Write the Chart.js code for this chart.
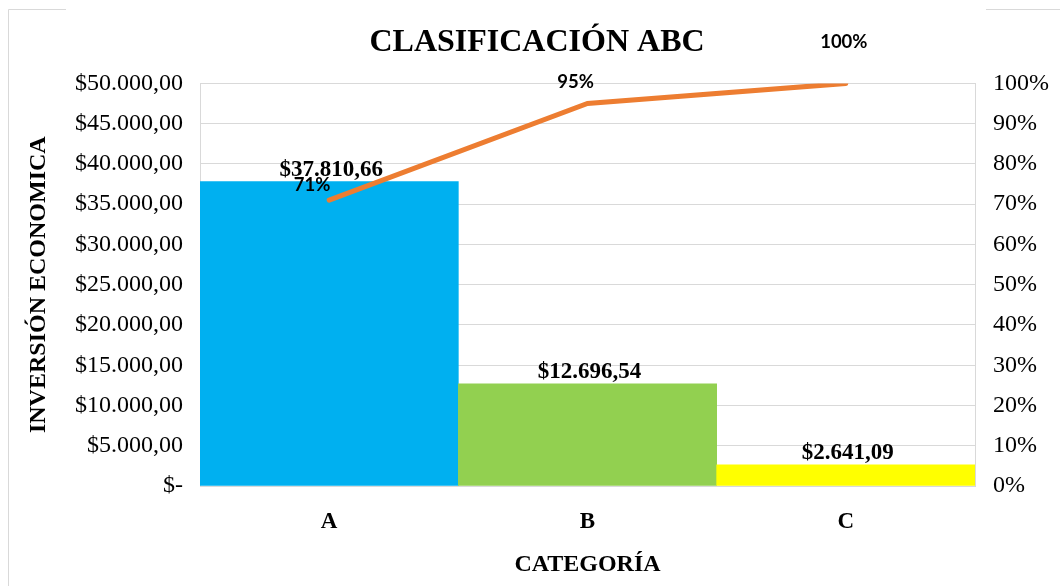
<!DOCTYPE html>
<html><head><meta charset="utf-8">
<script src="https://cdn.jsdelivr.net/npm/chart.js@4.4.1/dist/chart.umd.min.js"></script>
<style>html,body{margin:0;padding:0;background:#fff}</style>
</head><body>
<canvas id="c" width="1060" height="586"></canvas>
<script>
const categories = ['A', 'B', 'C'];
const inversion = [37810.66, 12696.54, 2641.09];
const acumulado = [71, 95, 100];
const barColors = ['#00B0F0', '#92D050', '#FFFF00'];
const chartTitle = 'CLASIFICACIÓN ABC';
const yTitle = 'INVERSIÓN ECONOMICA';
const xTitle = 'CATEGORÍA';

const SERIF = '"Liberation Serif", "Times New Roman", serif';

function money(v) {
  if (v === 0) return '$-';
  const parts = v.toFixed(2).split('.');
  const ent = parts[0].replace(/\B(?=(\d{3})+(?!\d))/g, '.');
  return '$' + ent + ',' + parts[1];
}

const framePlugin = {
  id: 'frame',
  beforeDraw(chart) {
    const ctx = chart.ctx;
    ctx.save();
    ctx.fillStyle = '#fff';
    ctx.fillRect(0, 0, chart.width, chart.height);
    ctx.strokeStyle = '#D9D9D9';
    ctx.lineWidth = 1;
    ctx.beginPath();
    ctx.moveTo(8.5, 586); ctx.lineTo(8.5, 9.5); ctx.lineTo(66, 9.5);
    ctx.moveTo(986, 9.5); ctx.lineTo(1060, 9.5);
    ctx.stroke();
    ctx.restore();
  }
};

const labelPlugin = {
  id: 'labels',
  afterDatasetsDraw(chart) {
    const ctx = chart.ctx;
    ctx.save();
    const barMeta = chart.getDatasetMeta(0);
    ctx.fillStyle = '#000';
    ctx.textAlign = 'center';
    ctx.textBaseline = 'alphabetic';
    ctx.font = 'bold 23px ' + SERIF;
    barMeta.data.forEach((el, i) => {
      ctx.fillText(money(inversion[i]), el.x + 2, el.y - 6);
    });
    const lineMeta = chart.getDatasetMeta(1);
    const offs = [[-17, -9], [-12, -16], [-2, -35]];
    ctx.font = 'bold 18.5px Lato, "Open Sans", sans-serif';
    lineMeta.data.forEach((el, i) => {
      ctx.fillText(acumulado[i] + '%', el.x + offs[i][0], el.y + offs[i][1]);
    });
    ctx.restore();
  }
};

new Chart(document.getElementById('c'), {
  data: {
    labels: categories,
    datasets: [
      {
        type: 'bar',
        data: inversion,
        backgroundColor: barColors,
        borderWidth: 0,
        barPercentage: 1,
        categoryPercentage: 1,
        yAxisID: 'y',
        order: 2
      },
      {
        type: 'line',
        data: acumulado,
        borderColor: '#ED7D31',
        borderWidth: 5,
        pointRadius: 0,
        tension: 0,
        borderCapStyle: 'round',
        yAxisID: 'y1',
        order: 1
      }
    ]
  },
  options: {
    responsive: false,
    animation: false,
    layout: { padding: { left: 14, right: 0, top: 0, bottom: 0 } },
    plugins: {
      legend: { display: false },
      tooltip: { enabled: false },
      title: {
        display: true,
        text: chartTitle,
        color: '#000',
        font: { family: SERIF, size: 32, weight: 'bold' },
        padding: { top: 24, bottom: 21 }
      }
    },
    scales: {
      x: {
        grid: { display: false, drawTicks: false },
        border: { display: true, color: '#D9D9D9', width: 1 },
        ticks: { color: '#000', font: { family: SERIF, size: 23, weight: 'bold' }, padding: 22 },
        title: { display: true, text: xTitle, color: '#000', font: { family: SERIF, size: 24, weight: 'bold' }, padding: { top: 0, bottom: 7 } },
        afterFit(s) { s.height = 100; }
      },
      y: {
        position: 'left',
        min: 0, max: 50000,
        ticks: { stepSize: 5000, color: '#000', font: { family: SERIF, size: 24 }, padding: 17, callback: v => money(v) },
        grid: { color: '#D9D9D9', lineWidth: 1, drawTicks: false },
        border: { display: true, color: '#D9D9D9', width: 1 },
        title: { display: true, text: yTitle, color: '#000', font: { family: SERIF, size: 24, weight: 'bold' }, padding: { top: 10, bottom: 0 } },
        afterFit(s) { s.width = 186; }
      },
      y1: {
        position: 'right',
        min: 0, max: 100,
        ticks: { stepSize: 10, color: '#000', font: { family: SERIF, size: 24 }, padding: 18, callback: v => v + '%' },
        grid: { display: false, drawTicks: false },
        border: { display: true, color: '#D9D9D9', width: 1 },
        afterFit(s) { s.width = 85; }
      }
    }
  },
  plugins: [framePlugin, labelPlugin]
});
</script>
</body></html>
